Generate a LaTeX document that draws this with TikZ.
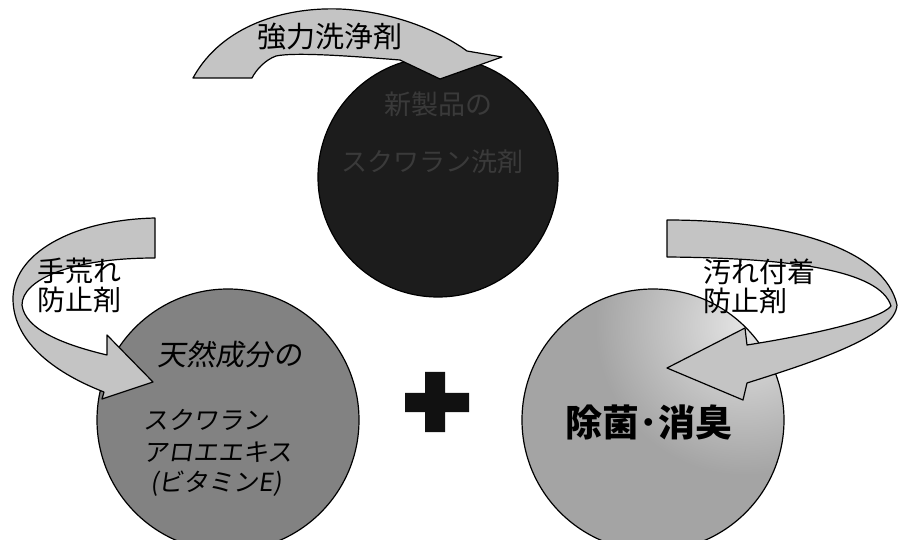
\documentclass[tikz,border=0pt]{standalone}
\usepackage{fontspec}
\newfontfamily\cjk{Noto Sans CJK JP}
\newfontfamily\cjkit[FakeSlant=0.15]{Noto Sans CJK JP}
\definecolor{topgray}{HTML}{1C1C1C}
\definecolor{toptext}{HTML}{3A3A3A}
\definecolor{leftgray}{HTML}{828282}
\definecolor{rightgray}{HTML}{A4A4A4}
\definecolor{righthi}{HTML}{E4E4E4}
\definecolor{arrowgray}{HTML}{C4C4C4}
\definecolor{plusblack}{HTML}{111111}
\begin{document}
\begin{tikzpicture}[x=1pt,y=-1pt,
  arrowband/.style={fill=arrowgray, draw=black, line width=1.2pt, line join=round},
  ball/.style={circle, draw=black, line width=1.2pt, inner sep=0pt},
  lbl/.style={font=\cjk\fontsize{28}{32}\selectfont, inner sep=0pt, anchor=west},
  inball/.style={font=\cjkit\fontsize{25}{30}\selectfont, inner sep=0pt, anchor=west},
]
\useasboundingbox (0,0) rectangle (898,540);
\fill[white] (0,0) rectangle (898,540);

% circles
\node[ball, fill=topgray, minimum size=240pt] (top) at (438,177) {};
\node[ball, fill=leftgray, minimum size=262pt] (left) at (228,420) {};
\begin{scope}
  \clip (653,420) circle (131pt);
  \fill[rightgray] (653,420) circle (131pt);
  \shade[inner color=righthi, outer color=rightgray] (745,325) circle (150pt);
\end{scope}
\node[ball, minimum size=262pt] (right) at (653,420) {};

% top arrow
\draw[arrowband] (193,78) .. controls (222,25) and (285,7) .. (340,9)
  .. controls (400,12) and (445,35) .. (467,51) -- (502,57) -- (440,79) -- (400,60)
  .. controls (350,56) and (295,52) .. (276,56)
  .. controls (265,60) and (256,70) .. (252,78) -- cycle;

% left arrow
\draw[arrowband] (155,218) .. controls (70,220) and (12,255) .. (13,300)
  .. controls (14,345) and (60,375) .. (104,392) -- (102,399) -- (153,382) -- (107,335) -- (107,355)
  .. controls (65,345) and (25,330) .. (22,305)
  .. controls (22,280) and (70,258) .. (155,258) -- cycle;

% right arrow
\draw[arrowband] (667,220) .. controls (790,220) and (885,250) .. (897,305)
  .. controls (895,335) and (820,360) .. (747,383) -- (743,400) -- (667,368) -- (745,328) -- (747,345)
  .. controls (810,335) and (880,320) .. (891,306)
  .. controls (880,270) and (790,258) .. (667,257) -- cycle;

% plus
\fill[plusblack] (425,372) -- (445,372) -- (445,393) -- (469,393) -- (469,412) -- (445,412)
  -- (445,432) -- (425,432) -- (425,412) -- (405,412) -- (405,393) -- (425,393) -- cycle;

% texts
\node[font=\cjk\fontsize{29}{32}\selectfont, inner sep=0pt] (t1) at (330,37) {強力洗浄剤};
\node[lbl] (l1) at (37,271) {手荒れ};
\node[lbl] (l2) at (37,300) {防止剤};
\node[lbl] (r1) at (703,272) {汚れ付着};
\node[lbl] (r2) at (703,301) {防止剤};
\node[font=\cjk\bfseries\fontsize{37}{40}\selectfont, inner sep=0pt] (rc) at (649,422) {除菌･消臭};
\node[font=\cjkit\fontsize{29}{32}\selectfont, inner sep=0pt] (lc0) at (230,354) {天然成分の};
\node[inball] (lc1) at (143,420) {スクワラン};
\node[inball] (lc2) at (143,452) {アロエエキス};
\node[inball] (lc3) at (150,484) {(ビタミンE)};
\node[font=\cjk\fontsize{27}{30}\selectfont, text=toptext, inner sep=0pt] (tc1) at (438,104) {新製品の};
\node[font=\cjk\fontsize{26}{30}\selectfont, text=toptext, inner sep=0pt] (tc2) at (432,162) {スクワラン洗剤};
\end{tikzpicture}
\end{document}
